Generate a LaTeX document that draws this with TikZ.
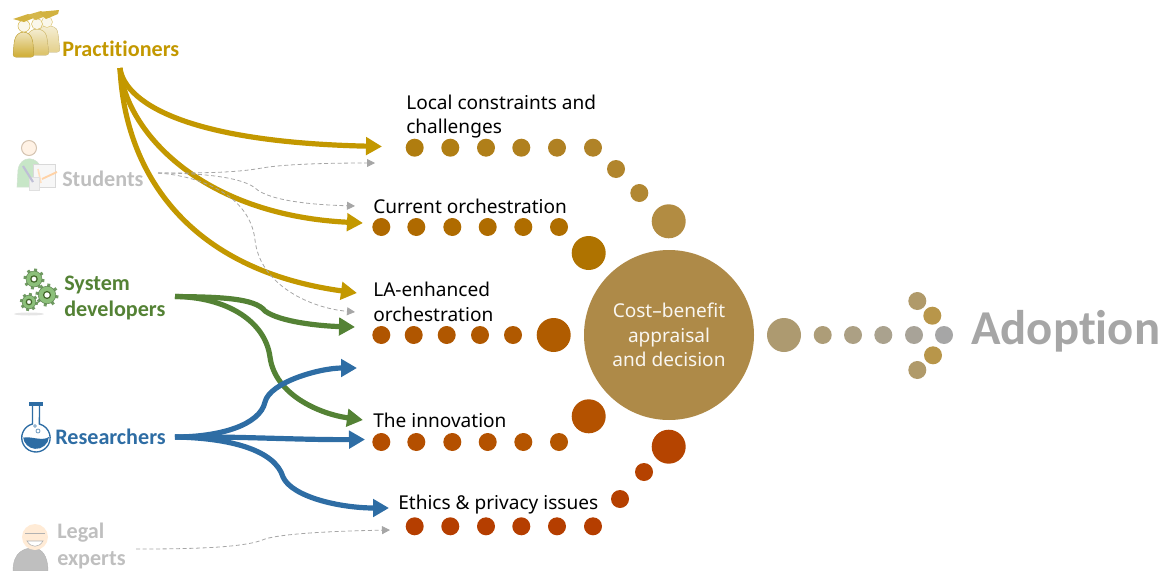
\documentclass[tikz,border=0pt]{standalone}
\usepackage{fontspec}
\setmainfont{Carlito}[Ligatures=NoCommon]
\newfontfamily\labelfont{Noto Sans}
\usetikzlibrary{arrows.meta,positioning,calc}

\definecolor{goldline}{HTML}{C39800}
\definecolor{greenline}{HTML}{548235}
\definecolor{blueline}{HTML}{2E6DA4}
\definecolor{paleline}{HTML}{A6A6A6}
\definecolor{paletext}{HTML}{BFBFBF}
\definecolor{appraisal}{HTML}{AE8A48}
\definecolor{gearfill}{HTML}{8CC07A}

% one gear icon: centre, outer radius
\newcommand{\gearicon}[2]{
  \foreach \a in {0,45,...,315} {
    \draw [gearfill!80!black, line width=2.2pt] ($(#1)+(\a+10:#2*0.7)$) -- ($(#1)+(\a+10:#2)$);
  }
  \fill [gearfill, draw=gearfill!70!black, line width=0.4pt] (#1) circle [radius=#2*0.76];
  \fill [white, draw=greenline!80!black, line width=0.9pt] (#1) circle [radius=#2*0.3];
}

\begin{document}
\begin{tikzpicture}[x=0.75pt,y=-0.75pt]

\tikzstyle{dot} = [circle, draw=none, inner sep=0pt, minimum size=13.5pt]
\tikzstyle{bigdot} = [circle, draw=none, inner sep=0pt, minimum size=25.5pt]
\tikzstyle{topic} = [draw=none, anchor=west, align=left, inner sep=0pt, font=\labelfont\fontsize{14.3}{18.6}\selectfont, text=black]
\tikzstyle{actor} = [draw=none, anchor=west, align=left, inner sep=0pt, font=\bfseries\fontsize{16.6}{19.6}\selectfont]
\tikzstyle{flow} = [line width=3.9pt, -{Triangle[length=12pt,width=13pt]}]
\tikzstyle{faint} = [paleline, line width=0.6pt, dash pattern=on 3pt off 2pt, -{Triangle[length=6pt,width=6pt]}]

\useasboundingbox (0,0) rectangle (1164,571);

%% ------------
%% -- ACTORS --
%% ------------

\node (practitioners) [actor, text=goldline] at (62,49) {Practitioners};
\node (students) [actor, text=paletext] at (62,179) {Students};
\node (developers) [actor, text=greenline] at (64,298) {System\\developers};
\node (researchers) [actor, text=blueline] at (55,437) {Researchers};
\node (legal) [actor, text=paletext] at (57,546) {Legal\\experts};

% practitioners icon
\fill [rounded corners=2pt, bottom color=goldline!45, top color=goldline!15, draw=goldline!40] (38,52) -- (38,34) .. controls (40,24) and (56,24) .. (58,34) -- (60,52) -- cycle;
\fill [goldline!8, draw=goldline!50] (47,22) circle [radius=5.5];
\fill [rounded corners=2pt, bottom color=goldline!60, top color=goldline!15, draw=goldline!50] (26,55) -- (27,38) .. controls (30,27) and (44,27) .. (47,38) -- (49,55) -- cycle;
\fill [goldline!8, draw=goldline!60] (37,24) circle [radius=5.5];
\fill [rounded corners=2pt, bottom color=goldline!80, top color=goldline!20, draw=goldline!70] (13,57) -- (14,44) .. controls (16,29) and (31,29) .. (33,44) -- (34,57) -- cycle;
\fill [goldline!8, draw=goldline!70] (24,26) circle [radius=6];
\fill [goldline!75] (13,19) -- (28,14) -- (36,17) -- (24,22) -- cycle;
\fill [goldline!70] (27,15) -- (41,11) -- (48,15) -- (36,20) -- cycle;
\fill [goldline!75] (38,12) -- (59,10) -- (58,14) -- (46,19) -- cycle;

% students icon
\fill [green!55!black!22, draw=green!40!black!18] (17,187) -- (18,170) .. controls (20,155) and (38,155) .. (42,170) -- (42,187) -- cycle;
\fill [orange!10, draw=orange!45!black!30, line width=0.8pt] (29,148) circle [radius=7.5];
\fill [black!3, draw=black!15] (33,164) rectangle (55,187);
\draw [orange!35, line width=1.4pt] (42,179) -- (57,172);
\draw [orange!25, line width=1.2pt] (38,169) -- (41,183);
\fill [black!6, draw=black!12] (29,177) rectangle (39,190);
\draw [blue!35!black!25, line width=1.6pt] (23,166) -- (33,182);

% developers icon
\fill [black!10] (29,314) ellipse [x radius=15, y radius=1.5];
\gearicon{34,279}{10.5}
\gearicon{47,295}{11.5}
\gearicon{29,302}{9}

% researchers icon
\fill [white, draw=blueline, line width=1pt] (32.5,405) -- (32.5,424) arc [start angle=-104, end angle=-436, radius=14.2] -- (39.5,405);
\fill [blueline] (29,402) rectangle (43,405.5);
\fill [blueline] (23,438) .. controls (28,435) and (42,442) .. (49,437) arc [start angle=5, end angle=175, radius=13];
\draw [blueline!70, line width=0.6pt] (38,431) circle [radius=2] (35,426) circle [radius=1.4];

% legal icon
\fill [paletext, draw=black!30, line width=0.3pt] (13,571) .. controls (13,552) and (24,548) .. (33,548) .. controls (42,548) and (48,556) .. (48,571) -- cycle;
\fill [orange!16] (35,537) circle [radius=13];
\draw [black!30, line width=0.6pt] (25,533) -- (45,533);
\fill [white, draw=black!30, line width=0.4pt] (27,541) .. controls (31,548) and (39,548) .. (43,541) -- cycle;

%% ------------
%% -- TOPICS --
%% ------------

\node (constraints) [topic] at (406,116.5) {Local constraints and\\challenges};
\node (orchestration) [topic] at (373,206) {Current orchestration};
\node (enhanced) [topic] at (373,302) {LA-enhanced\\orchestration};
\node (innovation) [topic] at (373,420) {The innovation};
\node (ethics) [topic] at (398,505) {Ethics \& privacy issues};

% local constraints
\node (loc1) [dot, fill={rgb,255:red,176;green,125;blue,15}] at (414.7,147.7) {};
\node (loc2) [dot, fill={rgb,255:red,176;green,126;blue,20}] at (450.3,147.7) {};
\node (loc3) [dot, fill={rgb,255:red,176;green,127;blue,25}] at (486,147.7) {};
\node (loc4) [dot, fill={rgb,255:red,176;green,128;blue,30}] at (521.3,147.7) {};
\node (loc5) [dot, fill={rgb,255:red,176;green,129;blue,35}] at (557,147.7) {};
\node (loc6) [dot, fill={rgb,255:red,176;green,131;blue,40}] at (593,147.7) {};
\node (loc7) [dot, fill={rgb,255:red,177;green,133;blue,45}] at (616,169) {};
\node (loc8) [dot, fill={rgb,255:red,177;green,135;blue,50}] at (639.3,193) {};
\node (loc9) [bigdot, fill={rgb,255:red,178;green,140;blue,66}] at (668.7,221.3) {};

% current orchestration
\node (cur1) [dot, fill={rgb,255:red,175;green,105;blue,0}] at (381.3,227) {};
\node (cur2) [dot, fill={rgb,255:red,175;green,106;blue,0}] at (416.3,227) {};
\node (cur3) [dot, fill={rgb,255:red,175;green,107;blue,0}] at (452.3,227) {};
\node (cur4) [dot, fill={rgb,255:red,175;green,108;blue,0}] at (487.7,227) {};
\node (cur5) [dot, fill={rgb,255:red,175;green,109;blue,0}] at (523.3,227) {};
\node (cur6) [dot, fill={rgb,255:red,175;green,110;blue,0}] at (559,227) {};
\node (cur7) [bigdot, fill={rgb,255:red,175;green,115;blue,0}] at (588.7,253) {};

% LA-enhanced
\node (enh1) [dot, fill={rgb,255:red,176;green,85;blue,0}] at (381.3,335) {};
\node (enh2) [dot, fill={rgb,255:red,176;green,86;blue,0}] at (413.7,335) {};
\node (enh3) [dot, fill={rgb,255:red,176;green,87;blue,0}] at (446.7,335) {};
\node (enh4) [dot, fill={rgb,255:red,176;green,88;blue,0}] at (480,335) {};
\node (enh5) [dot, fill={rgb,255:red,176;green,89;blue,0}] at (513,335) {};
\node (enh6) [bigdot, fill={rgb,255:red,176;green,92;blue,0}] at (553.7,335) {};

% innovation
\node (inn1) [dot, fill={rgb,255:red,180;green,78;blue,0}] at (381.3,442) {};
\node (inn2) [dot, fill={rgb,255:red,180;green,79;blue,0}] at (416.3,442) {};
\node (inn3) [dot, fill={rgb,255:red,180;green,80;blue,0}] at (452.3,442) {};
\node (inn4) [dot, fill={rgb,255:red,180;green,82;blue,0}] at (487.7,442) {};
\node (inn5) [dot, fill={rgb,255:red,180;green,84;blue,0}] at (523.3,442) {};
\node (inn6) [dot, fill={rgb,255:red,180;green,86;blue,0}] at (559,442) {};
\node (inn7) [bigdot, fill={rgb,255:red,180;green,82;blue,0}] at (588.7,416.3) {};

% ethics and privacy
\node (eth1) [dot, fill={rgb,255:red,181;green,62;blue,0}] at (414.7,526.3) {};
\node (eth2) [dot, fill={rgb,255:red,181;green,62;blue,0}] at (450.3,526.3) {};
\node (eth3) [dot, fill={rgb,255:red,181;green,62;blue,0}] at (486,526.3) {};
\node (eth4) [dot, fill={rgb,255:red,181;green,62;blue,0}] at (521.3,526.3) {};
\node (eth5) [dot, fill={rgb,255:red,181;green,62;blue,0}] at (557,526.3) {};
\node (eth6) [dot, fill={rgb,255:red,181;green,62;blue,0}] at (593,526.3) {};
\node (eth7) [dot, fill={rgb,255:red,181;green,64;blue,0}] at (620,499) {};
\node (eth8) [dot, fill={rgb,255:red,181;green,66;blue,0}] at (644,472) {};
\node (eth9) [bigdot, fill={rgb,255:red,181;green,68;blue,0}] at (668.7,446.7) {};

%% --------------
%% -- DECISION --
%% --------------

\node (decision) [circle, fill=appraisal, inner sep=0pt, minimum size=127.5pt, align=center, text=white!92!appraisal, font=\labelfont\fontsize{14.3}{18.2}\selectfont] at (669,335) {Cost–benefit\\appraisal\\and decision};

\node (ado1) [bigdot, fill={rgb,255:red,173;green,154;blue,112}] at (784,335) {};
\node (ado2) [dot, fill={rgb,255:red,173;green,157;blue,120}] at (822.7,335) {};
\node (ado3) [dot, fill={rgb,255:red,172;green,160;blue,132}] at (853,335) {};
\node (ado4) [dot, fill={rgb,255:red,170;green,162;blue,142}] at (883.3,335) {};
\node (ado5) [dot, fill={rgb,255:red,168;green,163;blue,152}] at (914,335) {};
\node (ado6) [dot, fill=paleline] at (944,335) {};
\node (ado7) [dot, fill={rgb,255:red,176;green,154;blue,106}] at (917.3,301) {};
\node (ado8) [dot, fill={rgb,255:red,184;green,150;blue,74}] at (932.3,315.7) {};
\node (ado9) [dot, fill={rgb,255:red,184;green,150;blue,74}] at (933,355.3) {};
\node (ado10) [dot, fill={rgb,255:red,176;green,154;blue,106}] at (917.3,370) {};

\node (adoption) [draw=none, anchor=west, inner sep=0pt, text=paleline, font=\bfseries\fontsize{36.5}{40}\selectfont] at (971,331) {Adoption};

%% ----------------
%% -- CONNECTORS --
%% ----------------

\coordinate (gold_src) at (120,68);
\coordinate (student_src) at (158,173);
\coordinate (green_src) at (175,296.5);
\coordinate (blue_src) at (175,437);
\coordinate (legal_src) at (136,549);
\coordinate (to_loc) at (382,146.5);
\coordinate (to_loc_faint) at (375,163);
\coordinate (to_cur) at (363,223);
\coordinate (to_cur_faint) at (355,206);
\coordinate (to_enh) at (357,293);
\coordinate (to_enh_faint) at (355,312);
\coordinate (to_enh_low) at (355,327);
\coordinate (to_gap) at (357,368);
\coordinate (to_inn) at (363,420);
\coordinate (to_inn_low) at (365,439.5);
\coordinate (to_eth) at (389,508);
\coordinate (to_eth_faint) at (390,530);

\draw [flow, goldline] (gold_src) .. controls (124,100) and (180,142) .. (to_loc);
\draw [flow, goldline] (gold_src) .. controls (125,130) and (200,215) .. (to_cur);
\draw [flow, goldline] (gold_src) .. controls (125,175) and (190,270) .. (to_enh);

\draw [faint] (student_src) .. controls (200,173) and (235,173) .. (262,168) .. controls (285,164) and (330,163) .. (to_loc_faint);
\draw [faint] (student_src) .. controls (195,173) and (240,176) .. (255,188) .. controls (270,202) and (320,205) .. (to_cur_faint);
\draw [faint] (student_src) .. controls (200,176) and (250,195) .. (255,240) .. controls (260,285) and (310,308) .. (to_enh_faint);

\draw [flow, greenline] (green_src) .. controls (220,297) and (255,298) .. (265,311) .. controls (280,322) and (320,326) .. (to_enh_low);
\draw [flow, greenline] (green_src) .. controls (225,297) and (265,320) .. (270,357) .. controls (275,395) and (320,414) .. (to_inn);

\draw [flow, blueline] (blue_src) .. controls (220,437) and (260,425) .. (265,402) .. controls (270,382) and (320,368) .. (to_gap);
\draw [flow, blueline] (blue_src) .. controls (230,436) and (300,440) .. (to_inn_low);
\draw [flow, blueline] (blue_src) .. controls (230,438) and (275,450) .. (283,477) .. controls (292,497) and (340,508) .. (to_eth);

\draw [faint] (legal_src) .. controls (190,549) and (245,548) .. (265,539) .. controls (285,533) and (340,531) .. (to_eth_faint);

\end{tikzpicture}
\end{document}
